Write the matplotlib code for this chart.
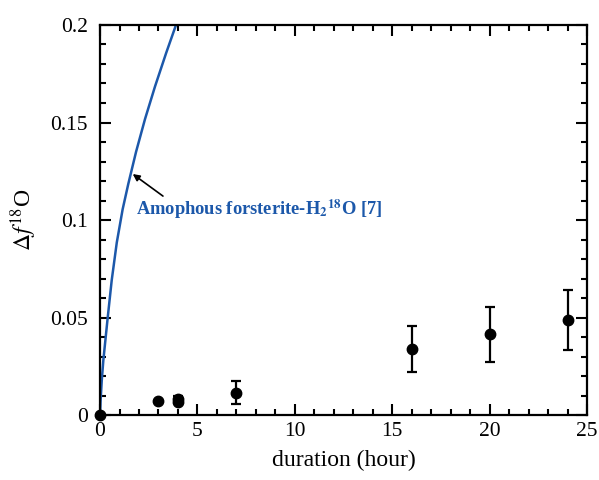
import matplotlib
matplotlib.use("Agg")
import matplotlib.pyplot as plt
from matplotlib.ticker import MultipleLocator

plt.rcParams['font.family'] = ['Liberation Serif', 'DejaVu Serif']
plt.rcParams['mathtext.fontset'] = 'stix'

# measured data
dur = [0, 3, 4, 4, 7, 16, 20, 24]
df18 = [0.0, 0.0072, 0.0085, 0.0070, 0.0114, 0.0338, 0.0414, 0.0486]
err_lo = [0.0, 0.0, 0.0012, 0.0, 0.0058, 0.0116, 0.0142, 0.0154]
err_hi = [0.0, 0.0, 0.0012, 0.0, 0.0062, 0.0120, 0.0142, 0.0154]

# amorphous forsterite-H2(18)O curve
curve_x = [0, 0.03, 0.09, 0.17, 0.38, 0.6, 0.86, 1.16, 1.45, 1.85, 2.31, 2.82, 3.39, 3.9]
curve_y = [0, 0.0077, 0.018, 0.0282, 0.0487, 0.0692, 0.0885, 0.1055, 0.1185,
           0.1350, 0.1518, 0.1684, 0.1855, 0.2]

blue = '#1c58aa'

fig = plt.figure(figsize=(5.99, 4.8), dpi=100)
ax = fig.add_axes([0.167, 0.135, 0.813, 0.813])

ax.plot(curve_x, curve_y, color=blue, lw=1.8, zorder=2, solid_joinstyle='round')
ax.errorbar(dur, df18, yerr=[err_lo, err_hi], fmt='o', color='black',
            markersize=7.5, capsize=3.5, elinewidth=1.6, capthick=1.6,
            zorder=3, clip_on=False)

ax.annotate('', xy=(1.68, 0.1236), xytext=(3.23, 0.1123),
            arrowprops=dict(arrowstyle='-|>', color='black', lw=1.2,
                            mutation_scale=10, shrinkA=0, shrinkB=0))
ax.text(1.85, 0.1026, r'Amophous forsterite-H$_\mathbf{2}$$^\mathbf{18}$O [7]',
        color=blue, fontsize=13.3, fontweight='bold', va='baseline', ha='left')

ax.set_xlim(0, 25)
ax.set_ylim(0, 0.2)
ax.xaxis.set_minor_locator(MultipleLocator(1))
ax.yaxis.set_minor_locator(MultipleLocator(0.01))
ax.set_yticks([0, 0.05, 0.1, 0.15, 0.2])
ax.set_yticklabels(['0', '0.05', '0.1', '0.15', '0.2'])
ax.set_xticks([0, 5, 10, 15, 20, 25])
ax.set_xticklabels(['0', '5', '10', '15', '20', '25'])

ax.tick_params(which='both', direction='in', top=True, right=True,
               labelsize=15.5, width=1.5)
ax.tick_params(which='major', length=8)
ax.tick_params(axis='y', which='major', pad=9)
ax.tick_params(axis='x', which='major', pad=5)
ax.tick_params(which='minor', length=4)
for s in ax.spines.values():
    s.set_linewidth(1.6)

ax.set_xlabel('duration (hour)', fontsize=17, labelpad=6)
ax.set_ylabel(r'$\Delta\mathit{f}^{18}$O', fontsize=17, labelpad=8)

fig.savefig('out.png', dpi=100)
